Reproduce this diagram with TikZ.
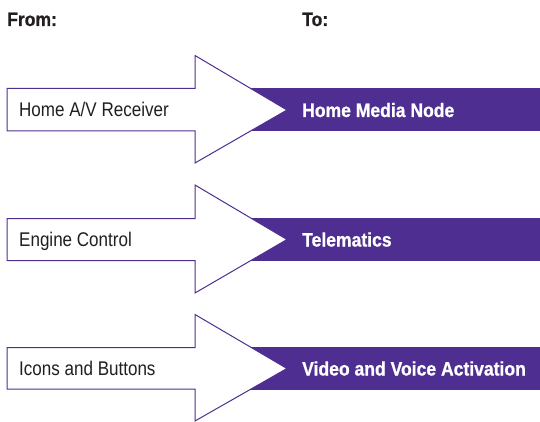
\documentclass[tikz,border=0pt]{standalone}
\usepackage{fontspec}
\setmainfont{Liberation Sans}
\newfontfamily\condreg[FakeStretch=0.86]{Liberation Sans}
\newfontfamily\condbold[FakeStretch=0.9,FakeBold=0.8]{Liberation Sans}
\definecolor{vio}{HTML}{4E2E91}
\definecolor{ink}{HTML}{231F20}
\begin{document}
\begin{tikzpicture}[x=1pt,y=-1pt,
  band/.style={fill=vio,draw=none},
  bigarrow/.style={draw=vio,line width=1pt,fill=white,line join=miter},
  fromtxt/.style={anchor=base west,inner sep=0pt,text=ink,font=\condreg\fontsize{19.8}{22}\selectfont},
  totxt/.style={anchor=base west,inner sep=0pt,text=white,font=\condbold\bfseries\fontsize{19.5}{22}\selectfont},
  headtxt/.style={anchor=base west,inner sep=0pt,text=ink,font=\condbold\bfseries\fontsize{19.5}{22}\selectfont}]
\useasboundingbox (0,0) rectangle (540,422);
\node[headtxt] (from) at (7,26) {From:};
\node[headtxt] (to) at (302,26) {To:};
% row 1
\fill[band] (240,88) rectangle (540,131.5);
\draw[bigarrow] (7,88.5) -- (195,88.5) -- (195,55.5) -- (287,110) -- (195,163) -- (195,131) -- (7,131) -- cycle;
\node[fromtxt] (a1) at (19,117) {Home A/V Receiver};
\node[totxt] (b1) at (302,117) {Home Media Node};
% row 2
\fill[band] (240,218) rectangle (540,261);
\draw[bigarrow] (7,218.5) -- (195,218.5) -- (195,185) -- (287,239.5) -- (195,293) -- (195,260.5) -- (7,260.5) -- cycle;
\node[fromtxt] (a2) at (19,246.5) {Engine Control};
\node[totxt] (b2) at (302,246.5) {Telematics};
% row 3
\fill[band] (240,347) rectangle (540,389.5);
\draw[bigarrow] (7,347.5) -- (195,347.5) -- (195,314.5) -- (287,368.5) -- (195,421) -- (195,389) -- (7,389) -- cycle;
\node[fromtxt] (a3) at (19,375.5) {Icons and Buttons};
\node[totxt] (b3) at (302,375.5) {Video and Voice Activation};
\end{tikzpicture}
\end{document}
